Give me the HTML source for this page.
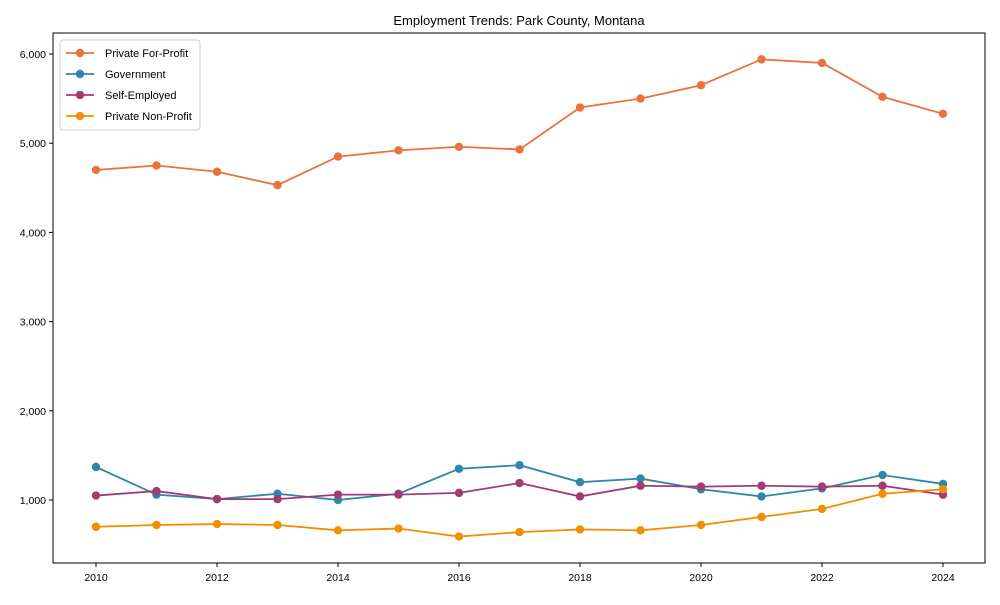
<!DOCTYPE html>
<html><head><meta charset="utf-8"><style>
body{margin:0;background:#fff;font-family:"Liberation Sans",Arial,sans-serif}
</style></head><body>
<svg id="chart" width="1000" height="600" xmlns="http://www.w3.org/2000/svg">
<rect width="1000" height="600" fill="#fff"/>
<text x="519" y="25" text-anchor="middle" font-size="13" font-family="Liberation Sans, Arial, sans-serif">Employment Trends: Park County, Montana</text>
<rect x="53" y="33" width="932" height="530" fill="none" stroke="#000" stroke-width="1"/>
<g id="axes"></g>
<g id="series"></g>
<g id="legend"></g>
</svg>
<script>
const years=[2010,2011,2012,2013,2014,2015,2016,2017,2018,2019,2020,2021,2022,2023,2024];
const privateForProfit=[4700,4750,4680,4530,4850,4920,4960,4930,5400,5500,5650,5940,5900,5520,5330];
const government=[1370,1060,1010,1070,1000,1070,1350,1390,1200,1240,1120,1040,1130,1280,1180];
const selfEmployed=[1050,1100,1010,1010,1060,1060,1080,1190,1040,1160,1150,1160,1150,1160,1060];
const privateNonProfit=[700,720,730,720,660,680,590,640,670,660,720,810,900,1070,1120];
const seriesNames=["Private For-Profit","Government","Self-Employed","Private Non-Profit"];
const yTicks=[1000,2000,3000,4000,5000,6000];
const xTicks=[2010,2012,2014,2016,2018,2020,2022,2024];
const colors=["#E8743B","#2E86AB","#A23B72","#F18F01"];
const NS="http://www.w3.org/2000/svg";
function x(v){return 96+(v-2010)*(943-96)/14;}
function y(v){return 500-(v-1000)*0.0892;}
function mk(t,a,p){const e=document.createElementNS(NS,t);for(const k in a)e.setAttribute(k,a[k]);p.appendChild(e);return e;}
const ax=document.getElementById('axes');
yTicks.forEach(t=>{
 const l=mk('line',{x1:49,x2:53,y1:y(t),y2:y(t),stroke:'#000'},ax);
 
 
 const tx=mk('text',{x:46,y:y(t)+4,'text-anchor':'end','font-size':10.5},ax);
 tx.textContent=t.toLocaleString('en-US');
 
 
});
xTicks.forEach(t=>{
 const l=mk('line',{x1:x(t),x2:x(t),y1:563,y2:567,stroke:'#000'},ax);
 
 
 const tx=mk('text',{x:x(t),y:581,'text-anchor':'middle','font-size':10.5},ax);
 tx.textContent=t;
 
 
});
const sg=document.getElementById('series');
[privateForProfit,government,selfEmployed,privateNonProfit].forEach((d,i)=>{
 const g=mk('g',{},sg);
 
 
 const pl=mk('polyline',{points:d.map((v,j)=>x(years[j])+','+y(v)).join(' '),fill:'none',stroke:colors[i],'stroke-width':1.8},g);
 
 
 d.forEach((v,j)=>{
  const c=mk('circle',{cx:x(years[j]),cy:y(v),r:4.2,fill:colors[i]},g);
  
  
 });
});
const lg=document.getElementById('legend');
const box=mk('rect',{x:60,y:40,width:140,height:90,rx:3,fill:'#fff',stroke:'#ccc'},lg);


seriesNames.forEach((n,i)=>{
 const yy=53+i*21;
 const g=mk('g',{},lg);
 
 
 mk('line',{x1:66,x2:94,y1:yy,y2:yy,stroke:colors[i],'stroke-width':1.8},g);
 mk('circle',{cx:80,cy:yy,r:4.2,fill:colors[i]},g);
 const t=mk('text',{x:105,y:yy+4,'font-size':11},g);
 t.textContent=n;
});
</script>
</body></html>
